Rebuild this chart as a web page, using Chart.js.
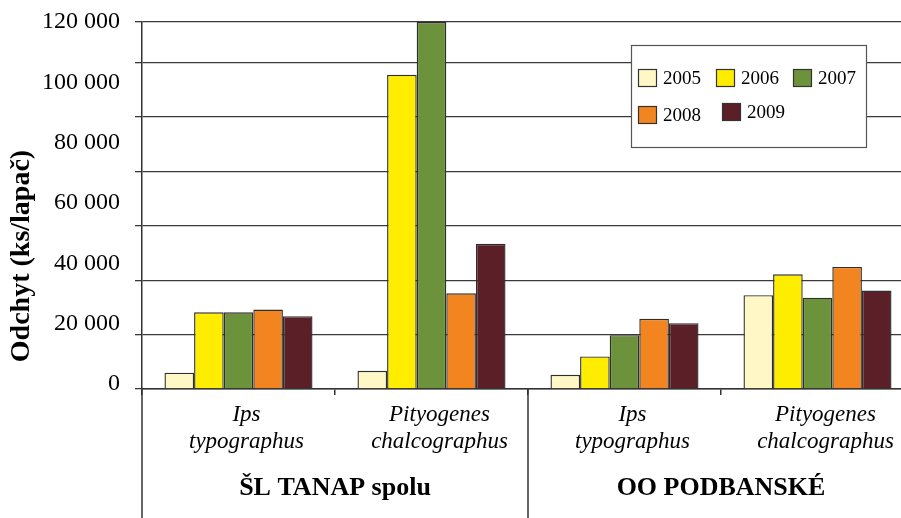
<!DOCTYPE html>
<html>
<head>
<meta charset="utf-8">
<script src="https://cdn.jsdelivr.net/npm/chart.js@4/dist/chart.umd.min.js"></script>
<style>
  html, body { margin: 0; padding: 0; background: #ffffff; overflow: hidden; }
  #wrap { width: 901px; height: 518px; overflow: hidden; }
  canvas { display: block; }
</style>
</head>
<body>
<div id="wrap"><canvas id="c" width="930" height="518"></canvas></div>
<script>
// ---- data ----
const years = ['2005', '2006', '2007', '2008', '2009'];
const species = [['Ips', 'typographus'], ['Pityogenes', 'chalcographus'], ['Ips', 'typographus'], ['Pityogenes', 'chalcographus']];
const groups = ['ŠL TANAP spolu', 'OO PODBANSKÉ'];
const v2005 = [6000, 6700, 5200, 34500];
const v2006 = [28200, 115600, 12000, 42200];
const v2007 = [28200, 135000, 19800, 33600];
const v2008 = [29200, 35200, 25800, 44900];
const v2009 = [26800, 53400, 24200, 36200];
const yTickValues = [0, 20000, 40000, 60000, 80000, 100000, 120000];
const yTickLabels = ['0', '20 000', '40 000', '60 000', '80 000', '100 000', '120 000'];
const gridValues = [0, 20000, 40000, 60000, 80000, 100000, 120000, 135000];
const yTitle = 'Odchyt (ks/lapač)';

const colors = ['#FFF8C6', '#FFED00', '#6C923B', '#F38520', '#5A1F27'];
const series = [v2005, v2006, v2007, v2008, v2009];
const SERIF = "'Liberation Serif', 'Times New Roman', serif";

const datasets = years.map((y, i) => ({
  label: y,
  data: series[i],
  backgroundColor: colors[i],
  borderColor: '#2e2e2e',
  borderWidth: 1.4,
  categoryPercentage: 0.767,
  barPercentage: 1.0,
  yAxisID: 'y',
  xAxisID: 'x'
}));

const extras = {
  id: 'extras',
  afterDraw(chart) {
    const ctx = chart.ctx;
    const x = chart.scales.x;
    const area = chart.chartArea;
    const H = chart.height;
    ctx.save();
    // divider lines below the axis
    ctx.strokeStyle = '#333';
    ctx.lineWidth = 1.5;
    const mid = (x.getPixelForValue(1) + x.getPixelForValue(2)) / 2;
    [area.left, mid].forEach(px => {
      ctx.beginPath();
      ctx.moveTo(px, area.bottom);
      ctx.lineTo(px, H);
      ctx.stroke();
    });
    // y-axis title
    ctx.fillStyle = '#000';
    ctx.font = "bold 28px " + SERIF;
    ctx.textAlign = 'center';
    ctx.textBaseline = 'middle';
    ctx.translate(22, 256);
    ctx.rotate(-Math.PI / 2);
    ctx.fillText(yTitle, 0, 0);
    ctx.restore();

    // legend
    ctx.save();
    const lx = 631, ly = 45, lw = 235, lh = 102;
    ctx.fillStyle = '#fff';
    ctx.fillRect(lx, ly, lw, lh);
    ctx.strokeStyle = '#555';
    ctx.lineWidth = 1.2;
    ctx.strokeRect(lx + 0.5, ly + 0.5, lw, lh);
    const pos = [[638, 69], [716, 69], [793, 69], [638, 106], [722, 103]];
    ctx.font = "19px " + SERIF;
    ctx.textAlign = 'left';
    ctx.textBaseline = 'middle';
    chart.data.datasets.forEach((ds, i) => {
      const [bx, by] = pos[i];
      ctx.fillStyle = ds.backgroundColor;
      ctx.fillRect(bx, by, 19, 18);
      ctx.strokeStyle = '#333';
      ctx.lineWidth = 1.2;
      ctx.strokeRect(bx + 0.5, by + 0.5, 18, 17);
      ctx.fillStyle = '#000';
      ctx.fillText(ds.label, bx + 25, by + 10);
    });
    ctx.restore();
  }
};

new Chart(document.getElementById('c'), {
  type: 'bar',
  data: { labels: species, datasets },
  plugins: [extras],
  options: {
    responsive: false,
    animation: false,
    layout: { padding: { top: 22, right: 16, left: 0, bottom: 0 } },
    plugins: { legend: { display: false }, tooltip: { enabled: false } },
    scales: {
      x: {
        type: 'category',
        position: 'bottom',
        offset: true,
        grid: { display: true, offset: true, drawOnChartArea: false, drawTicks: true, tickLength: 6, color: '#333', lineWidth: 1.5 },
        border: { display: true, color: '#333', width: 1.5 },
        ticks: { autoSkip: false, maxRotation: 0, minRotation: 0, color: '#000', padding: 6, labelOffset: 8,
                 font: { family: SERIF, size: 23, style: 'italic', lineHeight: 1.2 } },
        afterFit(s) { s.height = 75; s.paddingLeft = 0; s.paddingRight = 0; }
      },
      x2: {
        type: 'category',
        position: 'bottom',
        labels: groups,
        offset: true,
        grid: { display: false, drawTicks: false },
        border: { display: false },
        ticks: { autoSkip: false, maxRotation: 0, color: '#000', padding: 9,
                 font: { family: SERIF, size: 26, weight: 'bold', lineHeight: 1.2 } },
        afterFit(s) { s.height = 54; s.paddingLeft = 0; s.paddingRight = 0; }
      },
      y: {
        type: 'linear',
        position: 'left',
        weight: 0,
        min: 0,
        max: 135000,
        afterBuildTicks(s) { s.ticks = gridValues.map(v => ({ value: v })); },
        grid: { display: true, color: '#3a3a3a', lineWidth: 1.3, drawTicks: true, tickLength: 7 },
        border: { display: true, color: '#333', width: 1.5 },
        ticks: { display: false },
        afterFit(s) { s.width = 7; s.paddingTop = 0; s.paddingBottom = 0; }
      },
      yl: {
        type: 'linear',
        position: 'left',
        weight: 1,
        min: -1656,
        max: 120000,
        afterBuildTicks(s) { s.ticks = yTickValues.map(v => ({ value: v })); },
        grid: { display: false, drawTicks: false },
        border: { display: false },
        ticks: { color: '#000', padding: 15, font: { family: SERIF, size: 24 },
                 callback: (v, i) => yTickLabels[i] },
        afterFit(s) { s.width = 135; s.paddingTop = 0; s.paddingBottom = 0; }
      }
    }
  }
});
</script>
</body>
</html>
